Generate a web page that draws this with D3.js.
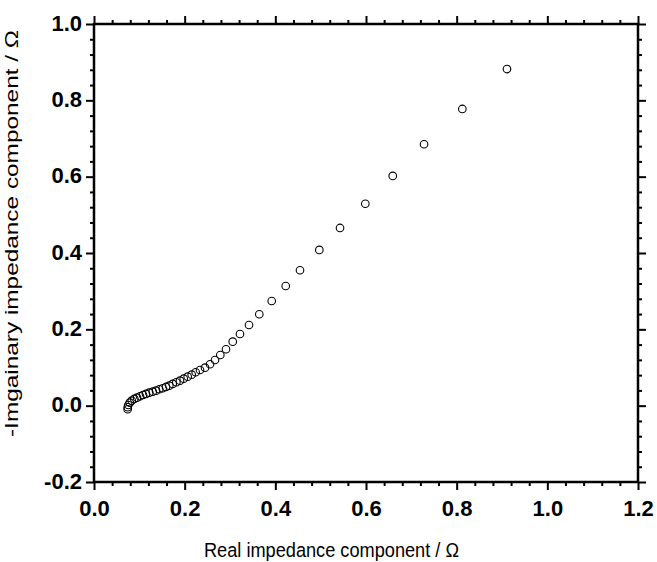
<!DOCTYPE html>
<html>
<head>
<meta charset="utf-8">
<script src="https://cdn.jsdelivr.net/npm/d3@7"></script>
<style>
  html, body { margin: 0; padding: 0; background: #fff; }
  svg { display: block; }
</style>
</head>
<body>
<svg id="chart" width="657" height="562"></svg>
<script>
// Data
const realZ = [0.0743, 0.0743, 0.0757, 0.0788, 0.0832, 0.0889, 0.0949, 0.1015, 0.1081, 0.1147,
  0.1220, 0.1295, 0.1368, 0.1440, 0.1515, 0.1588, 0.1661, 0.1736, 0.1816, 0.1897,
  0.1979, 0.2067, 0.2155, 0.2243, 0.2338, 0.2449, 0.2559, 0.2669, 0.2786, 0.2912,
  0.3060, 0.3220, 0.3419, 0.3646, 0.3920, 0.4229, 0.4544, 0.4970, 0.5427, 0.5985,
  0.6590, 0.7280, 0.8125, 0.9110];
const imagZ = [-0.0094, -0.0042, 0.0018, 0.0079, 0.0131, 0.0176, 0.0210, 0.0246, 0.0280, 0.0307,
  0.0341, 0.0367, 0.0393, 0.0430, 0.0456, 0.0490, 0.0524, 0.0569, 0.0613, 0.0655,
  0.0707, 0.0760, 0.0812, 0.0875, 0.0935, 0.0996, 0.1085, 0.1197, 0.1328, 0.1478,
  0.1677, 0.1878, 0.2114, 0.2395, 0.2743, 0.3136, 0.3548, 0.4080, 0.4656, 0.5290,
  0.6020, 0.6850, 0.7774, 0.8820];
const xTicks = [0.0, 0.2, 0.4, 0.6, 0.8, 1.0, 1.2];
const yTicks = [-0.2, 0.0, 0.2, 0.4, 0.6, 0.8, 1.0];
const xTitle = "Real impedance component / Ω";
const yTitle = "-Imgainary impedance component / Ω";

const svg = d3.select("#chart");
const pLeft = 94, pRight = 638, pTop = 24, pBottom = 482;

const x = d3.scaleLinear().domain([0, 1.2]).range([pLeft, pRight]);
const y = d3.scaleLinear().domain([-0.2, 1.0]).range([pBottom, pTop]);

const minorX = d3.range(0, 1.2001, 0.04).filter(v => Math.abs(v / 0.2 - Math.round(v / 0.2)) > 1e-6);
const minorY = d3.range(-0.2, 1.0001, 0.04).filter(v => Math.abs(v / 0.2 - Math.round(v / 0.2)) > 1e-6);

function styleAxis(g) {
  g.select(".domain").remove();
  g.selectAll(".tick line").attr("stroke", "#000").attr("stroke-width", 2);
}

const fmt = d3.formatLocale({ decimal: ".", thousands: ",", grouping: [3], currency: ["", ""], minus: "-" }).format(".1f");
const tickFont = "'Liberation Sans', Arial, sans-serif";

// bottom axis
svg.append("g").attr("transform", `translate(0,${pBottom})`)
  .call(d3.axisBottom(x).tickValues(xTicks).tickFormat(fmt).tickSize(8).tickPadding(10))
  .call(styleAxis)
  .call(g => g.selectAll(".tick text").attr("font-family", tickFont).attr("font-weight", "bold")
    .attr("font-size", 22).attr("fill", "#000"));
svg.append("g").attr("transform", `translate(0,${pBottom})`)
  .call(d3.axisBottom(x).tickValues(minorX).tickFormat("").tickSize(4))
  .call(styleAxis);

// top axis
svg.append("g").attr("transform", `translate(0,${pTop})`)
  .call(d3.axisTop(x).tickValues(xTicks).tickFormat("").tickSize(8))
  .call(styleAxis);
svg.append("g").attr("transform", `translate(0,${pTop})`)
  .call(d3.axisTop(x).tickValues(minorX).tickFormat("").tickSize(4))
  .call(styleAxis);

// left axis
svg.append("g").attr("transform", `translate(${pLeft},0)`)
  .call(d3.axisLeft(y).tickValues(yTicks).tickFormat(fmt).tickSize(8).tickPadding(4))
  .call(styleAxis)
  .call(g => g.selectAll(".tick text").attr("font-family", tickFont).attr("font-weight", "bold")
    .attr("font-size", 22).attr("fill", "#000").attr("dy", "0.28em"));
svg.append("g").attr("transform", `translate(${pLeft},0)`)
  .call(d3.axisLeft(y).tickValues(minorY).tickFormat("").tickSize(4))
  .call(styleAxis);

// right axis
svg.append("g").attr("transform", `translate(${pRight},0)`)
  .call(d3.axisRight(y).tickValues(yTicks).tickFormat("").tickSize(8))
  .call(styleAxis);
svg.append("g").attr("transform", `translate(${pRight},0)`)
  .call(d3.axisRight(y).tickValues(minorY).tickFormat("").tickSize(4))
  .call(styleAxis);

// frame
svg.append("rect")
  .attr("x", pLeft).attr("y", pTop)
  .attr("width", pRight - pLeft).attr("height", pBottom - pTop)
  .attr("fill", "none").attr("stroke", "#000").attr("stroke-width", 2.5);

// points
const pts = realZ.map((v, i) => ({ re: v, im: imagZ[i] }));
svg.append("g").selectAll("circle").data(pts).join("circle")
  .attr("cx", d => x(d.re))
  .attr("cy", d => y(d.im))
  .attr("r", 3.8)
  .attr("fill", "none")
  .attr("stroke", "#000")
  .attr("stroke-width", 1.1);

// axis titles
svg.append("text")
  .attr("x", 204).attr("y", 557)
  .attr("font-family", tickFont).attr("font-size", 20.5).attr("fill", "#000")
  .attr("textLength", 255).attr("lengthAdjust", "spacingAndGlyphs")
  .text(xTitle);

svg.append("text")
  .attr("transform", "translate(18,437) rotate(-90)")
  .attr("x", 0).attr("y", 0)
  .attr("font-family", tickFont).attr("font-size", 19).attr("fill", "#000")
  .attr("textLength", 407).attr("lengthAdjust", "spacingAndGlyphs")
  .text(yTitle);
</script>
</body>
</html>
